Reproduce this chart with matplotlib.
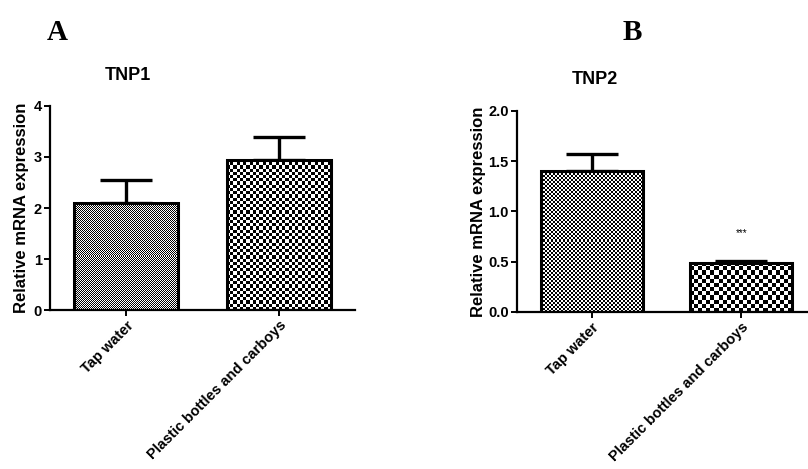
import numpy as np
import matplotlib
matplotlib.use("Agg")
import matplotlib.pyplot as plt

plt.rcParams["font.family"] = ["Liberation Sans", "DejaVu Sans"]

# data
groups = ["Tap water", "Plastic bottles and carboys"]
tnp1_mean = [2.10, 2.95]
tnp1_err = [0.45, 0.45]
tnp2_mean = [1.40, 0.49]
tnp2_err = [0.17, 0.02]
tnp1_ticks = [0, 1, 2, 3, 4]
tnp2_ticks = [0.0, 0.5, 1.0, 1.5, 2.0]

fig = plt.figure(figsize=(8.08, 4.69), dpi=100)
axA = fig.add_axes([0.0619, 0.339, 0.3775, 0.435])
axB = fig.add_axes([0.6399, 0.3348, 0.370, 0.4286])


def checker_fill(ax, bar, cell):
    # checkerboard texture clipped to the bar (GraphPad style fill)
    x0, y0 = bar.get_x(), bar.get_y()
    x1, y1 = x0 + bar.get_width(), y0 + bar.get_height()
    p0 = ax.transData.transform((x0, y0))
    p1 = ax.transData.transform((x1, y1))
    nx = max(1, int(round(abs(p1[0] - p0[0]) / cell)))
    ny = max(1, int(round(abs(p1[1] - p0[1]) / cell)))
    img = (np.add.outer(np.arange(ny), np.arange(nx)) % 2).astype(float)
    im = ax.imshow(img, extent=(x0, x1, y0, y1), cmap="gray", vmin=0, vmax=1,
                   interpolation="nearest", aspect="auto", zorder=1.5, origin="lower")
    im.set_clip_path(bar)


def panel(ax, means, errs, ticks, cells, ylab_fmt, labx):
    x = np.arange(len(means))
    ax.set_xlim(-0.5, 1.5)
    ax.set_ylim(ticks[0], ticks[-1])
    bars = ax.bar(x, means, width=0.68, color="white", edgecolor="black",
                  linewidth=2.2, zorder=2)
    for b, c in zip(bars, cells):
        b.set_facecolor("none")
        checker_fill(ax, b, c)
    ax.errorbar(x, means, yerr=[np.zeros(len(errs)), errs], fmt="none",
                ecolor="black", elinewidth=2.4, capsize=19, capthick=2.4, zorder=1)
    ax.set_xlim(-0.5, 1.5)
    ax.set_ylim(ticks[0], ticks[-1])
    for s in ["top", "right"]:
        ax.spines[s].set_visible(False)
    for s in ["left", "bottom"]:
        ax.spines[s].set_linewidth(1.6)
    ax.set_yticks(ticks)
    ax.set_yticklabels([ylab_fmt.format(t) for t in ticks], fontsize=10.5, fontweight="bold")
    ax.set_xticks(x)
    ax.set_xticklabels(groups, rotation=45, ha="right", rotation_mode="anchor",
                       fontsize=10.5, fontweight="bold")
    ax.tick_params(axis="both", direction="out", length=4, width=1.4, pad=2)
    ax.set_ylabel("Relative mRNA expression", fontsize=12, fontweight="bold")
    ax.yaxis.set_label_coords(labx, 0.5)


panel(axA, tnp1_mean, tnp1_err, tnp1_ticks, [1.0, 3.2], "{:g}", -0.069)
panel(axB, tnp2_mean, tnp2_err, tnp2_ticks, [2.0, 4.0], "{:.1f}", -0.105)

# titles sit about 78 px right of each y axis
fig.text(128 / 808, 1 - 76 / 469, "TNP1", fontsize=13, fontweight="bold", ha="center", va="center")
fig.text(595 / 808, 1 - 80 / 469, "TNP2", fontsize=13, fontweight="bold", ha="center", va="center")
axB.text(1, 0.79, "***", ha="center", va="center", fontsize=7)

fig.text(57 / 808, 1 - 33 / 469, "A", fontsize=21, fontweight="bold", family="Liberation Serif",
         ha="center", va="center")
fig.text(632 / 808, 1 - 33 / 469, "B", fontsize=21, fontweight="bold", family="Liberation Serif",
         ha="center", va="center")

fig.savefig("out.png", dpi=100)
